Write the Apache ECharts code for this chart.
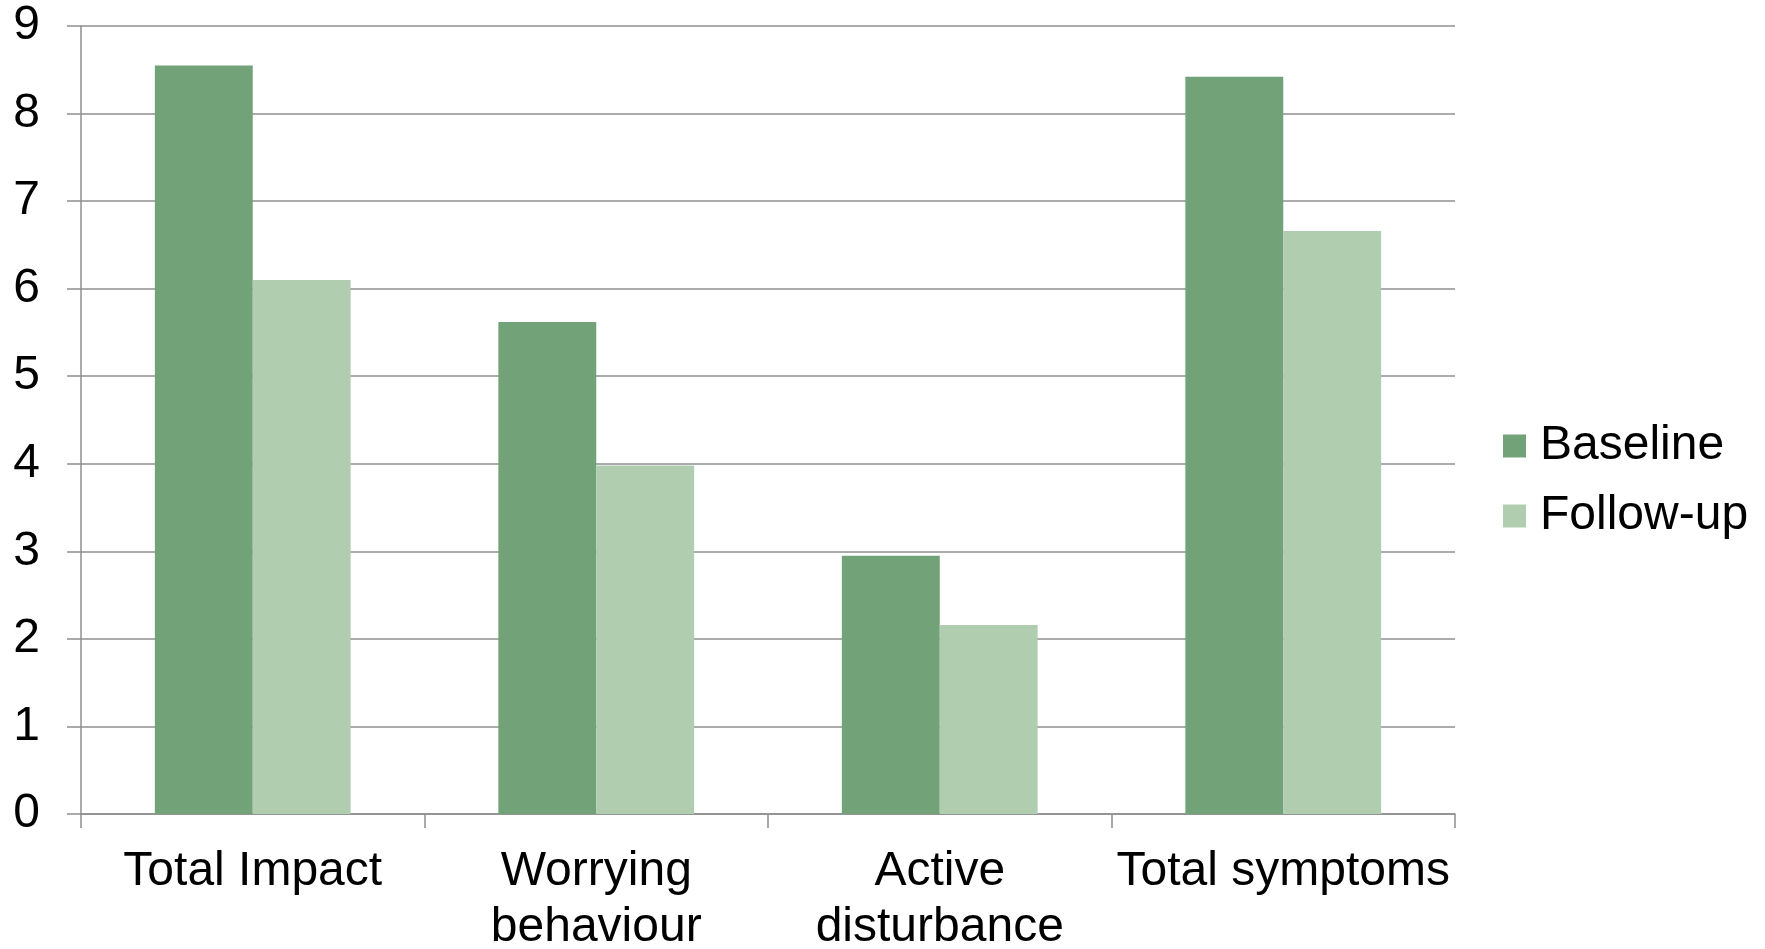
<!DOCTYPE html>
<html>
<head>
<meta charset="utf-8">
<title>Baseline vs Follow-up</title>
<script src="https://cdn.jsdelivr.net/npm/echarts@6/dist/echarts.min.js"></script>
<style>
  html, body { margin: 0; padding: 0; background: #ffffff; }
  #chart { width: 1765px; height: 949px; }
</style>
</head>
<body>
<div id="chart"></div>
<script>
// Categories (x axis) and the two measurement rounds
const categories = ['Total Impact', 'Worrying\nbehaviour', 'Active\ndisturbance', 'Total symptoms'];
const baseline = [8.55, 5.62, 2.95, 8.42];
const followUp = [6.10, 3.98, 2.16, 6.66];
const seriesNames = ['Baseline', 'Follow-up'];

const FONT = '"Liberation Sans", Arial, sans-serif';
const GRID_COLOR = '#8f8f8f';

const chart = echarts.init(document.getElementById('chart'), null, { renderer: 'canvas' });

chart.setOption({
  animation: false,
  backgroundColor: '#ffffff',
  textStyle: { fontFamily: FONT },
  grid: { left: 81, right: 310, top: 26, bottom: 135, outerBoundsMode: 'none', containLabel: false },
  legend: {
    orient: 'vertical',
    left: 1503,
    top: 422,
    padding: 0,
    itemWidth: 23,
    itemHeight: 23,
    itemGap: 22,
    icon: 'rect',
    data: seriesNames,
    textStyle: {
      fontFamily: FONT,
      fontSize: 48,
      color: '#000000',
      lineHeight: 48,
      padding: [0, 0, 0, 9]
    }
  },
  xAxis: {
    type: 'category',
    data: categories,
    axisLine: { show: true, lineStyle: { color: GRID_COLOR, width: 1.5 } },
    axisTick: { show: true, length: 14, alignWithLabel: false, lineStyle: { color: GRID_COLOR, width: 1.5 } },
    axisLabel: {
      interval: 0,
      margin: 30,
      fontFamily: FONT,
      fontSize: 48,
      lineHeight: 56,
      color: '#000000'
    }
  },
  yAxis: {
    type: 'value',
    min: 0,
    max: 9,
    interval: 1,
    axisLine: { show: true, lineStyle: { color: GRID_COLOR, width: 1.5 } },
    axisTick: { show: true, length: 14, lineStyle: { color: GRID_COLOR, width: 1.5 } },
    splitLine: { show: true, lineStyle: { color: GRID_COLOR, width: 1.5 } },
    axisLabel: {
      margin: 41,
      fontFamily: FONT,
      fontSize: 48,
      color: '#000000'
    }
  },
  series: [
    {
      name: seriesNames[0],
      type: 'bar',
      data: baseline,
      barGap: '0%',
      barCategoryGap: '43%',
      itemStyle: { color: '#72a277' }
    },
    {
      name: seriesNames[1],
      type: 'bar',
      data: followUp,
      itemStyle: { color: '#b0cdb0' }
    }
  ]
});
</script>
</body>
</html>
